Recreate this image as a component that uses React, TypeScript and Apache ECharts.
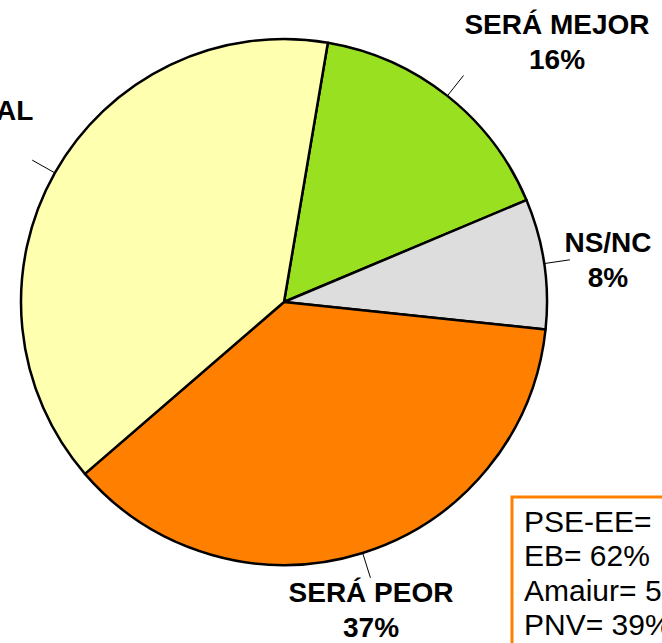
import React, { useEffect, useRef } from "react";
import * as echarts from "echarts";

const categories = ["SERÁ MEJOR", "NS/NC", "SERÁ PEOR", "SERÁ IGUAL"];
const values = [16, 8, 37, 39];
const sliceColors = ["#99E021", "#DDDDDD", "#FF8000", "#FFFFB0"];
const labelCenters: [number, number][] = [
  [557, 42],
  [608, 260],
  [371, 610],
  [-53, 128],
];
const boxLines = ["PSE-EE=", "EB= 62%", "Amaiur= 5", "PNV= 39%"];

export default function App() {
  const ref = useRef<HTMLDivElement>(null);
  useEffect(() => {
    if (!ref.current) return;
    const chart = echarts.init(ref.current, null, { renderer: "svg" });
    const font = "Arial, 'Liberation Sans', sans-serif";
    chart.setOption({
      animation: false,
      backgroundColor: "#ffffff",
      series: [
        {
          type: "pie",
          center: [284, 302],
          radius: 263,
          startAngle: 80.4,
          clockwise: true,
          avoidLabelOverlap: false,
          data: categories.map((name, i) => ({
            name,
            value: values[i],
            itemStyle: { color: sliceColors[i] },
          })),
          itemStyle: { borderColor: "#000", borderWidth: 2.5 },
          label: {
            show: true,
            position: "outside",
            formatter: (p: any) => `${p.name}\n${p.value}%`,
            fontFamily: font,
            fontWeight: "bold",
            fontSize: 28,
            lineHeight: 35,
            color: "#000",
            align: "center",
          },
          labelLine: {
            show: true,
            length: 26,
            length2: 0,
            lineStyle: { color: "#000", width: 1 },
          },
          labelLayout: (params: any) => {
            const c = labelCenters[params.dataIndex];
            return {
              x: c[0],
              y: c[1],
              align: "center",
              verticalAlign: "middle",
              labelLinePoints: params.labelLinePoints,
            };
          },
          emphasis: { disabled: true },
        },
      ],
      graphic: [
        {
          type: "rect",
          shape: { x: 512, y: 497, width: 220, height: 170 },
          style: { fill: "#fff", stroke: "#FF8000", lineWidth: 3 },
        },
        ...boxLines.map((t, i) => ({
          type: "text",
          x: 524,
          y: 521 + i * 34.5,
          style: {
            text: t,
            fontFamily: font,
            fontSize: 30,
            fill: "#000",
            textVerticalAlign: "middle",
          },
        })),
      ],
    });
    return () => chart.dispose();
  }, []);
  return (
    <div
      ref={ref}
      style={{ position: "absolute", left: 0, top: 0, width: 662, height: 643 }}
    />
  );
}
